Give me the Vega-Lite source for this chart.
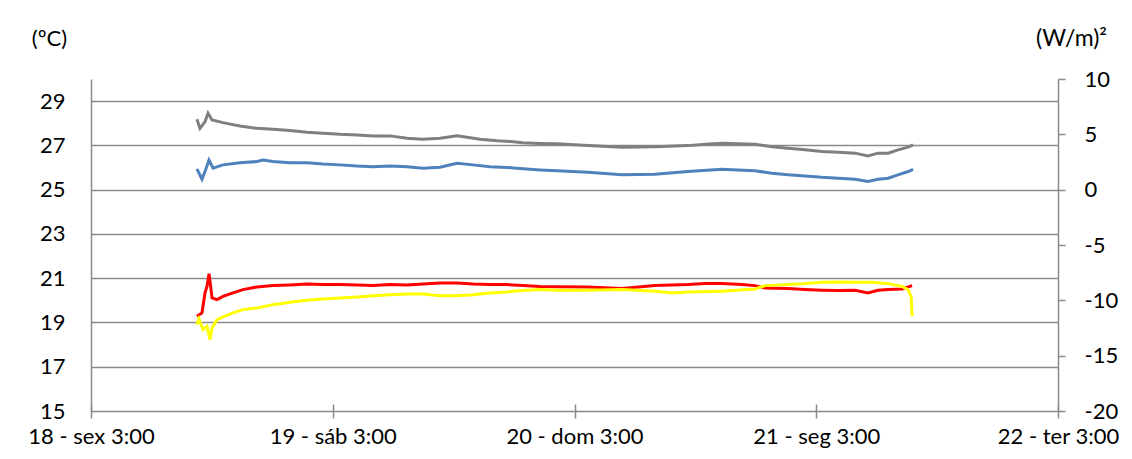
{
  "$schema": "https://vega.github.io/schema/vega-lite/v6.json",
  "width": 967,
  "height": 332,
  "autosize": {"type": "none"},
  "padding": {"left": 91, "top": 79, "right": 74, "bottom": 48},
  "background": "white",
  "config": {
    "view": {"stroke": null},
    "font": "Lato",
    "axis": {
      "labelFont": "Lato", "labelFontSize": 22, "labelColor": "#000000",
      "titleFont": "Lato", "titleFontSize": 22, "titleColor": "#000000", "titleFontWeight": "normal",
      "domainColor": "#8a8a8a", "domainWidth": 1.5, "tickColor": "#8a8a8a", "tickWidth": 1.5,
      "gridColor": "#8a8a8a", "gridWidth": 1.5, "gridOpacity": 1,
      "labelFlush": false, "labelOverlap": false
    }
  },
  "data": {"values": [
    {"t":"2013-10-18T13:31:00Z","s":"gray","v":28.18},
    {"t":"2013-10-18T13:49:00Z","s":"gray","v":27.77},
    {"t":"2013-10-18T14:19:00Z","s":"gray","v":28.07},
    {"t":"2013-10-18T14:37:00Z","s":"gray","v":28.45},
    {"t":"2013-10-18T15:01:00Z","s":"gray","v":28.15},
    {"t":"2013-10-18T16:06:00Z","s":"gray","v":28.03},
    {"t":"2013-10-18T17:47:00Z","s":"gray","v":27.88},
    {"t":"2013-10-18T19:29:00Z","s":"gray","v":27.77},
    {"t":"2013-10-18T21:04:00Z","s":"gray","v":27.73},
    {"t":"2013-10-18T22:45:00Z","s":"gray","v":27.67},
    {"t":"2013-10-19T00:26:00Z","s":"gray","v":27.59},
    {"t":"2013-10-19T02:02:00Z","s":"gray","v":27.55},
    {"t":"2013-10-19T03:43:00Z","s":"gray","v":27.50},
    {"t":"2013-10-19T05:25:00Z","s":"gray","v":27.47},
    {"t":"2013-10-19T07:00:00Z","s":"gray","v":27.43},
    {"t":"2013-10-19T08:41:00Z","s":"gray","v":27.43},
    {"t":"2013-10-19T10:22:00Z","s":"gray","v":27.32},
    {"t":"2013-10-19T11:58:00Z","s":"gray","v":27.28},
    {"t":"2013-10-19T13:39:00Z","s":"gray","v":27.32},
    {"t":"2013-10-19T15:20:00Z","s":"gray","v":27.43},
    {"t":"2013-10-19T16:20:00Z","s":"gray","v":27.37},
    {"t":"2013-10-19T17:37:00Z","s":"gray","v":27.28},
    {"t":"2013-10-19T19:19:00Z","s":"gray","v":27.21},
    {"t":"2013-10-19T20:54:00Z","s":"gray","v":27.17},
    {"t":"2013-10-19T21:53:00Z","s":"gray","v":27.12},
    {"t":"2013-10-19T23:35:00Z","s":"gray","v":27.09},
    {"t":"2013-10-20T01:16:00Z","s":"gray","v":27.07},
    {"t":"2013-10-20T04:20:00Z","s":"gray","v":26.99},
    {"t":"2013-10-20T07:43:00Z","s":"gray","v":26.92},
    {"t":"2013-10-20T10:59:00Z","s":"gray","v":26.94},
    {"t":"2013-10-20T14:16:00Z","s":"gray","v":26.99},
    {"t":"2013-10-20T15:58:00Z","s":"gray","v":27.05},
    {"t":"2013-10-20T17:39:00Z","s":"gray","v":27.10},
    {"t":"2013-10-20T19:14:00Z","s":"gray","v":27.07},
    {"t":"2013-10-20T20:55:00Z","s":"gray","v":27.05},
    {"t":"2013-10-20T22:37:00Z","s":"gray","v":26.94},
    {"t":"2013-10-21T00:12:00Z","s":"gray","v":26.87},
    {"t":"2013-10-21T01:53:00Z","s":"gray","v":26.80},
    {"t":"2013-10-21T03:34:00Z","s":"gray","v":26.72},
    {"t":"2013-10-21T05:10:00Z","s":"gray","v":26.69},
    {"t":"2013-10-21T06:51:00Z","s":"gray","v":26.65},
    {"t":"2013-10-21T08:08:00Z","s":"gray","v":26.52},
    {"t":"2013-10-21T09:08:00Z","s":"gray","v":26.65},
    {"t":"2013-10-21T10:08:00Z","s":"gray","v":26.65},
    {"t":"2013-10-21T11:07:00Z","s":"gray","v":26.80},
    {"t":"2013-10-21T12:07:00Z","s":"gray","v":26.92},
    {"t":"2013-10-21T12:37:00Z","s":"gray","v":27.02},

    {"t":"2013-10-18T13:31:00Z","s":"blue","v":25.94},
    {"t":"2013-10-18T14:01:00Z","s":"blue","v":25.47},
    {"t":"2013-10-18T14:19:00Z","s":"blue","v":25.82},
    {"t":"2013-10-18T14:43:00Z","s":"blue","v":26.34},
    {"t":"2013-10-18T15:07:00Z","s":"blue","v":25.97},
    {"t":"2013-10-18T16:06:00Z","s":"blue","v":26.12},
    {"t":"2013-10-18T17:47:00Z","s":"blue","v":26.22},
    {"t":"2013-10-18T19:29:00Z","s":"blue","v":26.27},
    {"t":"2013-10-18T20:05:00Z","s":"blue","v":26.34},
    {"t":"2013-10-18T21:04:00Z","s":"blue","v":26.27},
    {"t":"2013-10-18T22:45:00Z","s":"blue","v":26.22},
    {"t":"2013-10-19T00:26:00Z","s":"blue","v":26.22},
    {"t":"2013-10-19T02:02:00Z","s":"blue","v":26.16},
    {"t":"2013-10-19T03:43:00Z","s":"blue","v":26.12},
    {"t":"2013-10-19T05:25:00Z","s":"blue","v":26.07},
    {"t":"2013-10-19T07:00:00Z","s":"blue","v":26.04},
    {"t":"2013-10-19T08:41:00Z","s":"blue","v":26.07},
    {"t":"2013-10-19T10:22:00Z","s":"blue","v":26.04},
    {"t":"2013-10-19T11:58:00Z","s":"blue","v":25.97},
    {"t":"2013-10-19T13:39:00Z","s":"blue","v":26.01},
    {"t":"2013-10-19T15:20:00Z","s":"blue","v":26.19},
    {"t":"2013-10-19T16:55:00Z","s":"blue","v":26.12},
    {"t":"2013-10-19T18:37:00Z","s":"blue","v":26.04},
    {"t":"2013-10-19T20:18:00Z","s":"blue","v":26.00},
    {"t":"2013-10-19T21:53:00Z","s":"blue","v":25.94},
    {"t":"2013-10-19T23:35:00Z","s":"blue","v":25.89},
    {"t":"2013-10-20T01:16:00Z","s":"blue","v":25.85},
    {"t":"2013-10-20T04:20:00Z","s":"blue","v":25.79},
    {"t":"2013-10-20T07:43:00Z","s":"blue","v":25.67},
    {"t":"2013-10-20T10:59:00Z","s":"blue","v":25.70},
    {"t":"2013-10-20T14:16:00Z","s":"blue","v":25.82},
    {"t":"2013-10-20T17:39:00Z","s":"blue","v":25.92},
    {"t":"2013-10-20T19:14:00Z","s":"blue","v":25.89},
    {"t":"2013-10-20T20:55:00Z","s":"blue","v":25.85},
    {"t":"2013-10-20T22:37:00Z","s":"blue","v":25.74},
    {"t":"2013-10-21T00:12:00Z","s":"blue","v":25.67},
    {"t":"2013-10-21T01:53:00Z","s":"blue","v":25.62},
    {"t":"2013-10-21T03:34:00Z","s":"blue","v":25.56},
    {"t":"2013-10-21T05:10:00Z","s":"blue","v":25.52},
    {"t":"2013-10-21T06:51:00Z","s":"blue","v":25.47},
    {"t":"2013-10-21T08:08:00Z","s":"blue","v":25.37},
    {"t":"2013-10-21T09:08:00Z","s":"blue","v":25.47},
    {"t":"2013-10-21T10:08:00Z","s":"blue","v":25.52},
    {"t":"2013-10-21T11:07:00Z","s":"blue","v":25.67},
    {"t":"2013-10-21T12:07:00Z","s":"blue","v":25.82},
    {"t":"2013-10-21T12:37:00Z","s":"blue","v":25.92},

    {"t":"2013-10-18T13:31:00Z","s":"red","v":-11.44},
    {"t":"2013-10-18T14:01:00Z","s":"red","v":-11.14},
    {"t":"2013-10-18T14:19:00Z","s":"red","v":-9.33},
    {"t":"2013-10-18T14:31:00Z","s":"red","v":-8.74},
    {"t":"2013-10-18T14:43:00Z","s":"red","v":-7.59},
    {"t":"2013-10-18T15:01:00Z","s":"red","v":-9.78},
    {"t":"2013-10-18T15:31:00Z","s":"red","v":-9.94},
    {"t":"2013-10-18T16:06:00Z","s":"red","v":-9.64},
    {"t":"2013-10-18T17:06:00Z","s":"red","v":-9.33},
    {"t":"2013-10-18T18:05:00Z","s":"red","v":-9.03},
    {"t":"2013-10-18T19:29:00Z","s":"red","v":-8.79},
    {"t":"2013-10-18T21:04:00Z","s":"red","v":-8.67},
    {"t":"2013-10-18T22:45:00Z","s":"red","v":-8.61},
    {"t":"2013-10-19T00:26:00Z","s":"red","v":-8.52},
    {"t":"2013-10-19T02:02:00Z","s":"red","v":-8.58},
    {"t":"2013-10-19T03:43:00Z","s":"red","v":-8.58},
    {"t":"2013-10-19T05:25:00Z","s":"red","v":-8.61},
    {"t":"2013-10-19T07:00:00Z","s":"red","v":-8.67},
    {"t":"2013-10-19T08:41:00Z","s":"red","v":-8.58},
    {"t":"2013-10-19T10:22:00Z","s":"red","v":-8.61},
    {"t":"2013-10-19T11:58:00Z","s":"red","v":-8.52},
    {"t":"2013-10-19T13:39:00Z","s":"red","v":-8.43},
    {"t":"2013-10-19T15:20:00Z","s":"red","v":-8.43},
    {"t":"2013-10-19T16:55:00Z","s":"red","v":-8.52},
    {"t":"2013-10-19T18:37:00Z","s":"red","v":-8.58},
    {"t":"2013-10-19T20:18:00Z","s":"red","v":-8.58},
    {"t":"2013-10-19T21:53:00Z","s":"red","v":-8.67},
    {"t":"2013-10-19T23:35:00Z","s":"red","v":-8.74},
    {"t":"2013-10-20T01:16:00Z","s":"red","v":-8.77},
    {"t":"2013-10-20T04:20:00Z","s":"red","v":-8.79},
    {"t":"2013-10-20T07:43:00Z","s":"red","v":-8.94},
    {"t":"2013-10-20T10:59:00Z","s":"red","v":-8.67},
    {"t":"2013-10-20T14:16:00Z","s":"red","v":-8.58},
    {"t":"2013-10-20T15:58:00Z","s":"red","v":-8.49},
    {"t":"2013-10-20T17:39:00Z","s":"red","v":-8.49},
    {"t":"2013-10-20T19:38:00Z","s":"red","v":-8.58},
    {"t":"2013-10-20T20:55:00Z","s":"red","v":-8.67},
    {"t":"2013-10-20T21:55:00Z","s":"red","v":-8.88},
    {"t":"2013-10-21T00:12:00Z","s":"red","v":-8.94},
    {"t":"2013-10-21T01:53:00Z","s":"red","v":-9.03},
    {"t":"2013-10-21T03:34:00Z","s":"red","v":-9.09},
    {"t":"2013-10-21T05:10:00Z","s":"red","v":-9.12},
    {"t":"2013-10-21T06:51:00Z","s":"red","v":-9.09},
    {"t":"2013-10-21T08:08:00Z","s":"red","v":-9.33},
    {"t":"2013-10-21T09:08:00Z","s":"red","v":-9.09},
    {"t":"2013-10-21T10:08:00Z","s":"red","v":-9.03},
    {"t":"2013-10-21T11:31:00Z","s":"red","v":-8.97},
    {"t":"2013-10-21T12:31:00Z","s":"red","v":-8.67},

    {"t":"2013-10-18T13:31:00Z","s":"yellow","v":-12.19},
    {"t":"2013-10-18T13:43:00Z","s":"yellow","v":-11.68},
    {"t":"2013-10-18T14:07:00Z","s":"yellow","v":-12.64},
    {"t":"2013-10-18T14:31:00Z","s":"yellow","v":-12.35},
    {"t":"2013-10-18T14:49:00Z","s":"yellow","v":-13.55},
    {"t":"2013-10-18T15:01:00Z","s":"yellow","v":-12.49},
    {"t":"2013-10-18T15:31:00Z","s":"yellow","v":-11.74},
    {"t":"2013-10-18T16:06:00Z","s":"yellow","v":-11.50},
    {"t":"2013-10-18T17:06:00Z","s":"yellow","v":-11.14},
    {"t":"2013-10-18T18:05:00Z","s":"yellow","v":-10.84},
    {"t":"2013-10-18T19:29:00Z","s":"yellow","v":-10.69},
    {"t":"2013-10-18T21:04:00Z","s":"yellow","v":-10.39},
    {"t":"2013-10-18T22:45:00Z","s":"yellow","v":-10.18},
    {"t":"2013-10-19T00:26:00Z","s":"yellow","v":-10.00},
    {"t":"2013-10-19T02:02:00Z","s":"yellow","v":-9.87},
    {"t":"2013-10-19T03:43:00Z","s":"yellow","v":-9.78},
    {"t":"2013-10-19T05:25:00Z","s":"yellow","v":-9.69},
    {"t":"2013-10-19T07:00:00Z","s":"yellow","v":-9.58},
    {"t":"2013-10-19T08:41:00Z","s":"yellow","v":-9.49},
    {"t":"2013-10-19T10:22:00Z","s":"yellow","v":-9.42},
    {"t":"2013-10-19T11:58:00Z","s":"yellow","v":-9.42},
    {"t":"2013-10-19T13:39:00Z","s":"yellow","v":-9.58},
    {"t":"2013-10-19T15:20:00Z","s":"yellow","v":-9.58},
    {"t":"2013-10-19T16:55:00Z","s":"yellow","v":-9.49},
    {"t":"2013-10-19T18:37:00Z","s":"yellow","v":-9.33},
    {"t":"2013-10-19T20:18:00Z","s":"yellow","v":-9.24},
    {"t":"2013-10-19T21:53:00Z","s":"yellow","v":-9.12},
    {"t":"2013-10-19T23:35:00Z","s":"yellow","v":-9.03},
    {"t":"2013-10-20T01:16:00Z","s":"yellow","v":-9.08},
    {"t":"2013-10-20T04:20:00Z","s":"yellow","v":-9.09},
    {"t":"2013-10-20T07:43:00Z","s":"yellow","v":-9.03},
    {"t":"2013-10-20T10:59:00Z","s":"yellow","v":-9.19},
    {"t":"2013-10-20T12:41:00Z","s":"yellow","v":-9.33},
    {"t":"2013-10-20T14:16:00Z","s":"yellow","v":-9.24},
    {"t":"2013-10-20T17:39:00Z","s":"yellow","v":-9.19},
    {"t":"2013-10-20T20:55:00Z","s":"yellow","v":-8.97},
    {"t":"2013-10-20T21:55:00Z","s":"yellow","v":-8.67},
    {"t":"2013-10-21T00:12:00Z","s":"yellow","v":-8.58},
    {"t":"2013-10-21T01:53:00Z","s":"yellow","v":-8.49},
    {"t":"2013-10-21T03:34:00Z","s":"yellow","v":-8.37},
    {"t":"2013-10-21T05:10:00Z","s":"yellow","v":-8.34},
    {"t":"2013-10-21T06:51:00Z","s":"yellow","v":-8.37},
    {"t":"2013-10-21T08:32:00Z","s":"yellow","v":-8.37},
    {"t":"2013-10-21T10:08:00Z","s":"yellow","v":-8.49},
    {"t":"2013-10-21T11:31:00Z","s":"yellow","v":-8.74},
    {"t":"2013-10-21T12:07:00Z","s":"yellow","v":-9.03},
    {"t":"2013-10-21T12:25:00Z","s":"yellow","v":-9.64},
    {"t":"2013-10-21T12:31:00Z","s":"yellow","v":-11.44}
  ]},
  "encoding": {
    "x": {
      "field": "t", "type": "temporal",
      "scale": {"type": "utc", "domain": [
        {"year": 2013, "month": 10, "date": 18, "hours": 3, "utc": true},
        {"year": 2013, "month": 10, "date": 22, "hours": 3, "utc": true}
      ]},
      "axis": {
        "title": null, "grid": false, "domain": false,
        "offset": -7, "tickSize": 14,
        "labelPadding": 8,
        "values": [
          {"year": 2013, "month": 10, "date": 18, "hours": 3, "utc": true},
          {"year": 2013, "month": 10, "date": 19, "hours": 3, "utc": true},
          {"year": 2013, "month": 10, "date": 20, "hours": 3, "utc": true},
          {"year": 2013, "month": 10, "date": 21, "hours": 3, "utc": true},
          {"year": 2013, "month": 10, "date": 22, "hours": 3, "utc": true}
        ],
        "labelExpr": "utcFormat(datum.value, '%-d') + ' - ' + ['dom','seg','ter','qua','qui','sex','sáb'][utcday(datum.value)] + ' ' + utcFormat(datum.value, '%-H:%M')"
      }
    },
    "color": {
      "field": "s", "type": "nominal", "legend": null,
      "scale": {"domain": ["gray", "blue", "red", "yellow"], "range": ["#7f7f7f", "#4f81bd", "#ff0000", "#ffff00"]}
    }
  },
  "layer": [
    {
      "transform": [{"filter": "datum.s === 'gray' || datum.s === 'blue'"}],
      "mark": {"type": "line", "strokeWidth": 3},
      "encoding": {
        "y": {
          "field": "v", "type": "quantitative",
          "scale": {"domain": [15, 30], "nice": false, "zero": false},
          "axis": {
            "orient": "left", "values": [15, 17, 19, 21, 23, 25, 27, 29],
            "grid": true, "ticks": false, "tickSize": 0, "domain": true,
            "labelPadding": 26,
            "title": "(ºC)", "titleAngle": 0, "titleAlign": "center", "titleBaseline": "middle",
            "titleX": -42, "titleY": -41
          }
        }
      }
    },
    {
      "transform": [{"filter": "datum.s === 'red' || datum.s === 'yellow'"}],
      "mark": {"type": "line", "strokeWidth": 3},
      "encoding": {
        "y": {
          "field": "v", "type": "quantitative",
          "scale": {"domain": [-20, 10], "nice": false, "zero": false},
          "axis": {
            "orient": "right", "values": [-20, -15, -10, -5, 0, 5, 10],
            "labelExpr": "'' + datum.value",
            "grid": false, "ticks": true, "tickSize": 7, "domain": true,
            "labelPadding": 19,
            "title": "(W/m)²", "titleAngle": 0, "titleAlign": "center", "titleBaseline": "middle",
            "titleFontSize": 23,
            "titleX": 13, "titleY": -41
          }
        }
      }
    }
  ],
  "resolve": {"scale": {"y": "independent"}}
}
